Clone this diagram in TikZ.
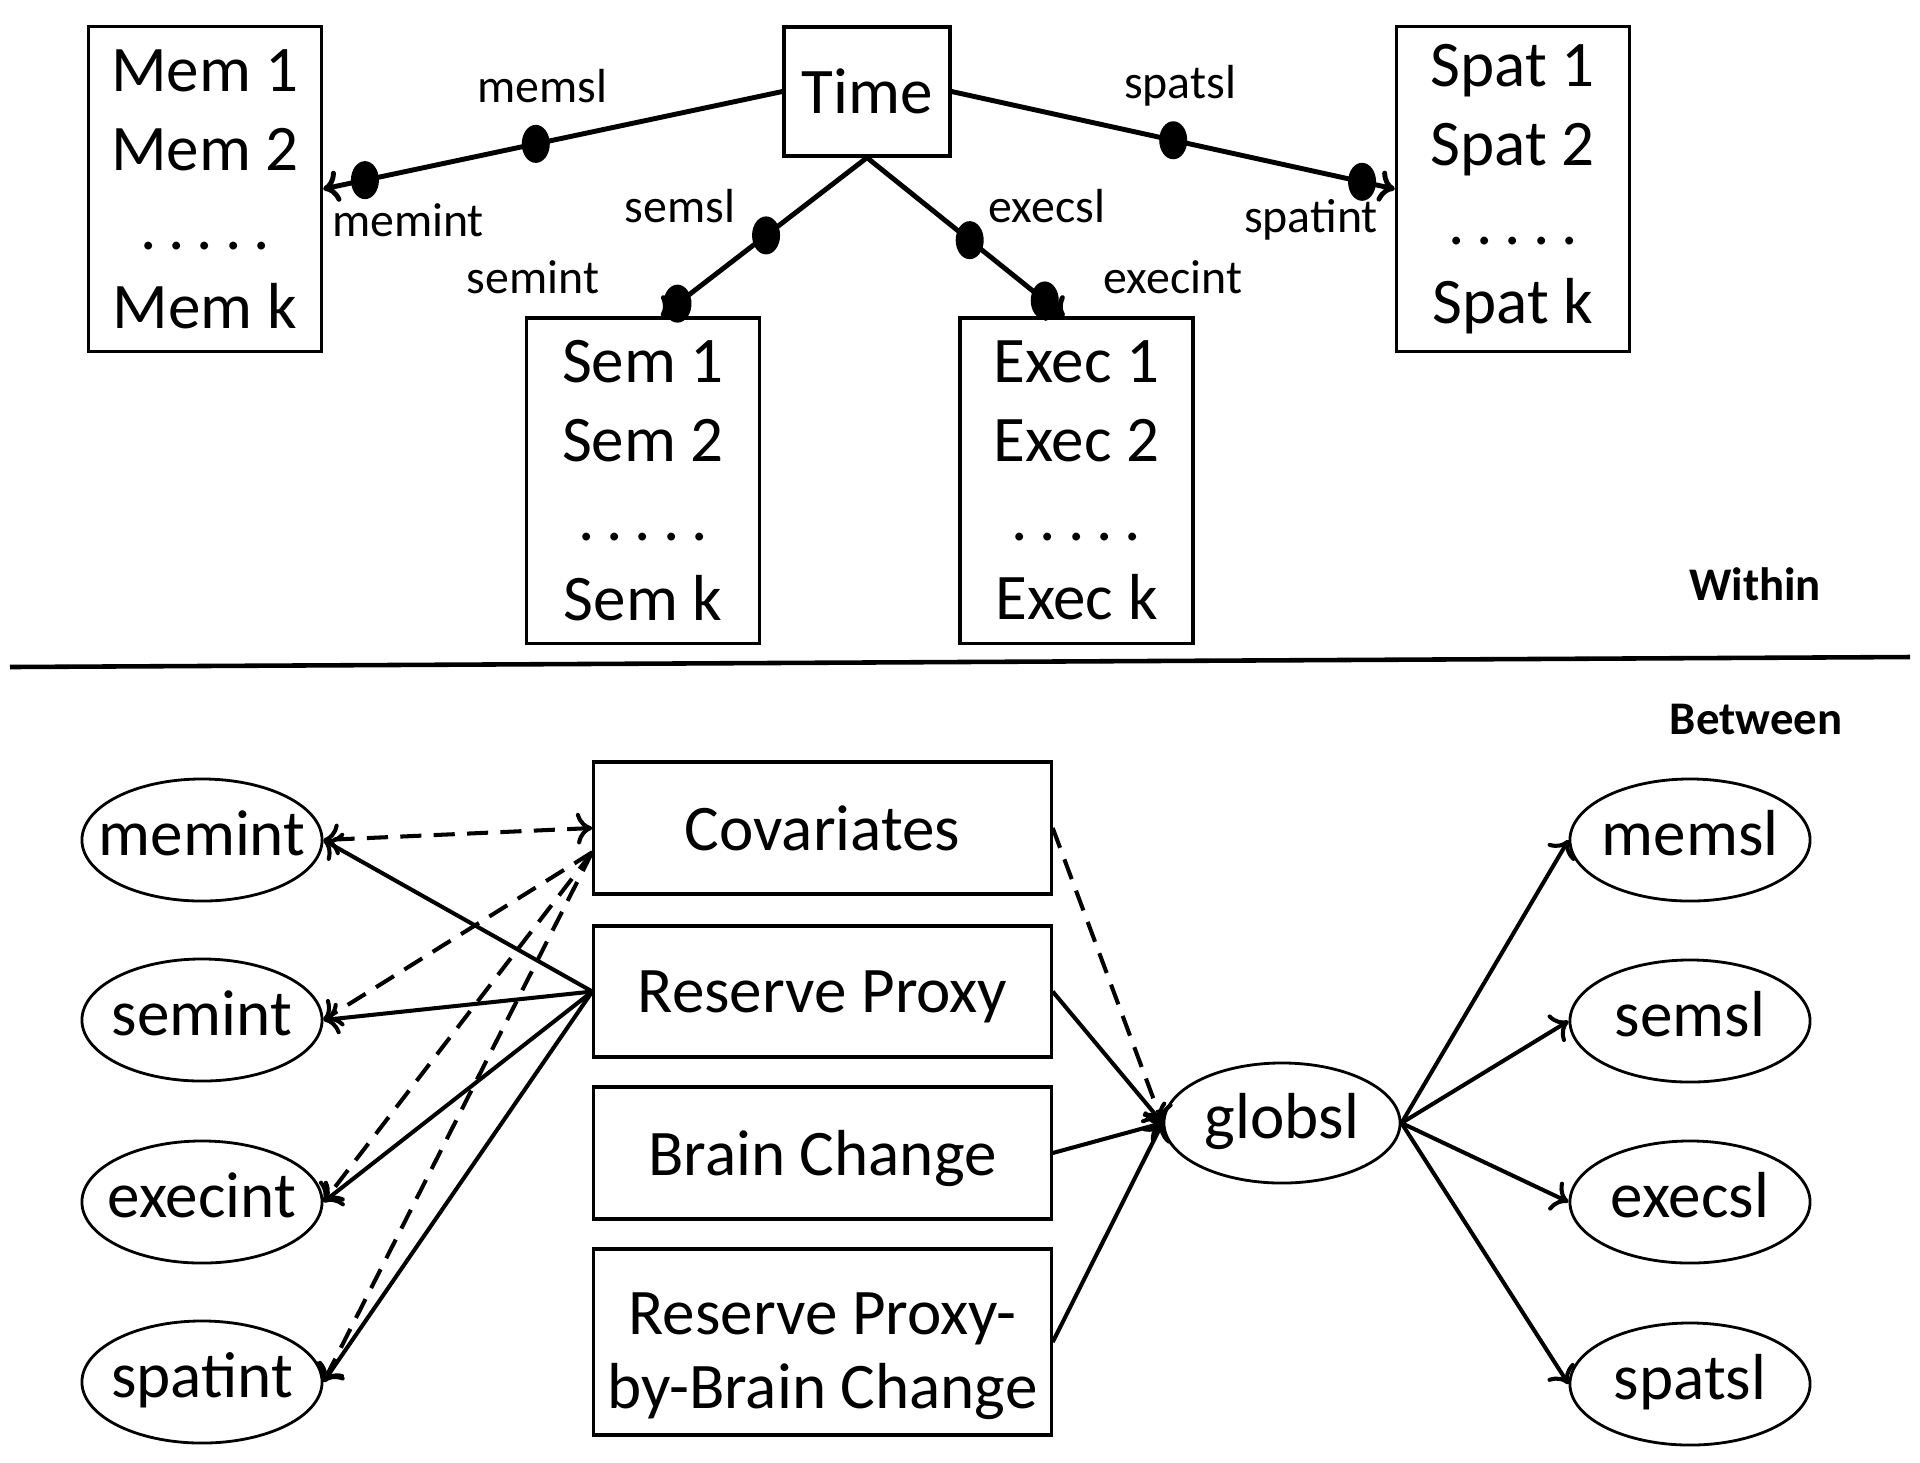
\documentclass[tikz,border=0pt]{standalone}
\usepackage{fontspec}
\setmainfont{Carlito}
\usetikzlibrary{arrows.meta,shapes.geometric,calc}
\newcommand{\zw}[1]{\makebox[0pt]{#1}}
\newcommand{\fivedots}{.\hspace{3.4pt}.\hspace{3.4pt}.\hspace{3.4pt}.\hspace{3.4pt}.}
\begin{document}
\begin{tikzpicture}[x=0.01cm,y=-0.01cm,
  bigfont/.style={font=\fontsize{18.5}{22.5}\selectfont},
  smallfont/.style={font=\fontsize{13.6}{16}\selectfont},
  listbox/.style={draw, line width=0.9pt, align=center, inner sep=0pt, minimum width=2.33cm, minimum height=3.25cm, bigfont},
  rbox/.style={draw, line width=0.9pt, align=center, inner sep=0pt, minimum width=4.57cm, font=\fontsize{18.5}{21}\selectfont, text depth=0pt},
  oval/.style={draw, ellipse, line width=0.8pt, inner sep=0pt, minimum width=2.4cm, minimum height=1.22cm, bigfont, text height=9pt, text depth=0pt},
  lbl/.style={smallfont, inner sep=0pt},
  sidelbl/.style={font=\bfseries\fontsize{13.3}{16}\selectfont, inner sep=0pt},
  dotmark/.style={fill=black, ellipse, inner sep=0pt, minimum width=0.28cm, minimum height=0.38cm},
  tip/.style={-{To[length=4.5pt,width=9pt]}},
  topconn/.style={line width=1.4pt, tip},
  conn/.style={line width=1.15pt, tip},
  dconn/.style={conn, dash pattern=on 6pt off 3.5pt},
  dconnb/.style={line width=1.15pt, dash pattern=on 6pt off 3.5pt, {To[length=4.5pt,width=9pt]}-{To[length=4.5pt,width=9pt]}}
]
\useasboundingbox (0,0) rectangle (1920,1462);

% ---------- Within part ----------
\node[listbox] (mem) at (205,189) {Mem 1\\Mem 2\\\fivedots\\Mem k};
\node[draw, line width=0.9pt, inner sep=0pt, minimum width=1.66cm, minimum height=1.29cm, bigfont] (time) at (867,91.5) {Time};
\node[listbox] (spat) at (1513,189) {Spat 1\\Spat 2\\\fivedots\\Spat k};
\node[listbox] (sem) at (643,480.5) {Sem 1\\Sem 2\\\fivedots\\Sem k};
\node[listbox] (exec) at (1076.5,480.5) {Exec 1\\Exec 2\\\fivedots\\Exec k};

\draw[topconn] (time.west) -- node[dotmark,pos=0.537]{} node[dotmark,pos=0.909]{} (mem.east);
\draw[topconn] (time.east) -- node[dotmark,pos=0.5]{} node[dotmark,pos=0.926]{} (spat.west);
\draw[topconn] (time.south) -- node[dotmark,pos=0.49]{} node[dotmark,pos=0.92]{} ([xshift=1.8mm]sem.north);
\draw[topconn] (time.south) -- node[dotmark,pos=0.52]{} node[dotmark,pos=0.90]{} ([xshift=-1.2mm]exec.north);

\node[lbl] (l1) at (542,86) {memsl};
\node[lbl] (l2) at (408,220) {memint};
\node[lbl] (l3) at (1180,86) {spatsl};
\node[lbl] (l4) at (1311,220) {spatint};
\node[lbl] (l5) at (680,206) {semsl};
\node[lbl] (l6) at (533,277) {semint};
\node[lbl] (l7) at (1047,206) {execsl};
\node[lbl] (l8) at (1173,277) {execint};

\node[sidelbl] (within) at (1755,584) {Within};
\coordinate (sepL) at (10,667);
\coordinate (sepR) at (1910,657);
\draw[line width=1.3pt] (sepL) -- (sepR);
\node[sidelbl] (between) at (1756,719) {Between};

% ---------- Between part ----------
\node[oval] (memint) at (202,840) {\zw{memint}};
\node[oval] (semint) at (202,1020) {\zw{semint}};
\node[oval] (execint) at (202,1202) {\zw{execint}};
\node[oval] (spatint) at (202,1382) {\zw{spatint}};

\node[rbox, minimum height=1.32cm] (cov) at (822.5,828) {Covariates};
\node[rbox, minimum height=1.31cm] (rp) at (822.5,991.5) {Reserve Proxy};
\node[rbox, minimum height=1.32cm] (bc) at (822.5,1153) {Brain Change};
\node[draw, line width=0.9pt, inner sep=0pt, minimum width=4.57cm, minimum height=1.86cm, font=\fontsize{18.5}{21}\selectfont, text height=37.6pt, text depth=0pt] (rpbc) at (822.5,1342) {\begin{tabular}[b]{@{}c@{}}Reserve Proxy-\\by-Brain Change\end{tabular}};

\node[oval, minimum width=2.36cm, minimum height=1.2cm] (globsl) at (1282,1123) {\zw{globsl}};

\node[oval] (memsl) at (1690,840) {\zw{memsl}};
\node[oval] (semsl) at (1690,1021) {\zw{semsl}};
\node[oval] (execsl) at (1690,1202) {\zw{execsl}};
\node[oval] (spatsl) at (1690,1384) {\zw{spatsl}};

\draw[dconnb] (cov.west) -- (memint.east);
\draw[dconn] (cov.186) -- (semint.east);
\draw[dconn] (cov.186) -- (execint.east);
\draw[dconn] (cov.186) -- (spatint.east);

\draw[conn] (rp.west) -- (memint.east);
\draw[conn] (rp.west) -- (semint.east);
\draw[conn] (rp.west) -- (execint.east);
\draw[conn] (rp.west) -- (spatint.east);

\draw[dconn] (cov.east) -- (globsl.west);
\draw[conn] (rp.east) -- (globsl.west);
\draw[conn] (bc.east) -- (globsl.west);
\draw[conn] (rpbc.east) -- (globsl.west);

\draw[conn] (globsl.east) -- (memsl.west);
\draw[conn] (globsl.east) -- (semsl.west);
\draw[conn] (globsl.east) -- (execsl.west);
\draw[conn] (globsl.east) -- (spatsl.west);
\end{tikzpicture}
\end{document}
